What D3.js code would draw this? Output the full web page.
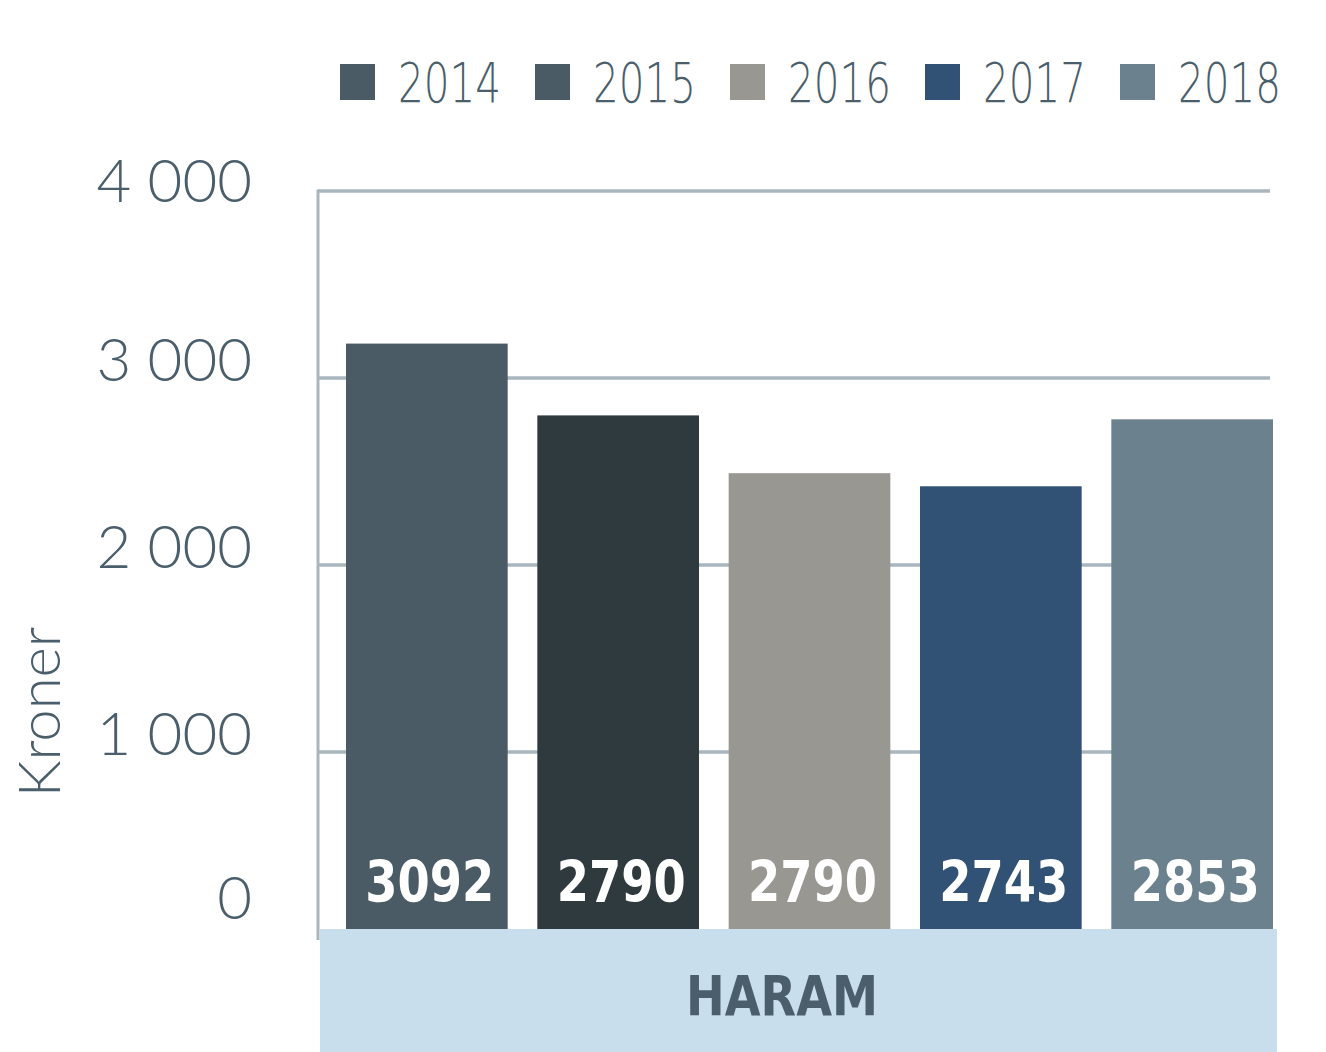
<!DOCTYPE html>
<html>
<head>
<meta charset="utf-8">
<script src="https://cdn.jsdelivr.net/npm/d3@7"></script>
<style>
    html, body { margin: 0; padding: 0; background: #fff; }
    svg { display: block; }
</style>
</head>
<body>
<div id="chart"></div>
<script>
// data
const years = ["2014", "2015", "2016", "2017", "2018"];
const barValues = [3184, 2800, 2491, 2421, 2779];
const valueLabels = ["3092", "2790", "2790", "2743", "2853"];
const yTicks = [0, 1000, 2000, 3000, 4000];
const yTickLabels = ["0", "1 000", "2 000", "3 000", "4 000"];
const category = "HARAM";
const yTitle = "Kroner";

const barColors = ["#4b5b66", "#2f3a3f", "#989792", "#325275", "#6b818d"];
const legendColors = ["#4b5b66", "#4b5b66", "#989792", "#325275", "#6b818d"];
const textColor = "#4a5f6b";
const gridColor = "#a9b6be";

const width = 1326;
const height = 1052;
const margin = { left: 318, top: 191, right: 56, bottom: 113 };

const svg = d3.select("#chart")
    .append("svg")
    .attr("width", width)
    .attr("height", height)
    .attr("viewBox", `0 0 ${width} ${height}`);

const yScale = d3.scaleLinear()
    .domain([0, 4000])
    .range([height - margin.bottom, margin.top]);

const xScale = d3.scaleBand()
    .domain(years)
    .range([346, 1273])
    .paddingInner(0.155)
    .paddingOuter(0);

// gridlines
svg.selectAll(".grid")
    .data(yTicks.filter(d => d > 0))
    .join("line")
        .attr("class", "grid")
        .attr("x1", margin.left)
        .attr("x2", width - margin.right)
        .attr("y1", d => yScale(d))
        .attr("y2", d => yScale(d))
        .attr("stroke", gridColor)
        .attr("stroke-width", 3.5);

// y axis line
svg.append("line")
    .attr("x1", margin.left)
    .attr("x2", margin.left)
    .attr("y1", yScale(4000) - 1.5)
    .attr("y2", yScale(0) + 1)
    .attr("stroke", gridColor)
    .attr("stroke-width", 3);

// tick labels sit a bit above their gridline, kept inside the frame
svg.selectAll(".tick-label")
    .data(yTicks)
    .join("text")
        .attr("class", "tick-label")
        .attr("x", 252)
        .attr("y", d => Math.min(Math.max(yScale(d) - 18, 181), 898))
        .attr("dy", "0.35em")
        .attr("text-anchor", "end")
        .style("font-family", "Lato, 'Open Sans', sans-serif")
        .style("font-weight", 300)
        .style("font-size", "60px")
        .attr("fill", textColor)
        .text((d, i) => yTickLabels[i]);

// y title
svg.append("text")
    .attr("transform", `translate(60, 712) rotate(-90)`)
    .attr("text-anchor", "middle")
    .style("font-family", "Lato, 'Open Sans', sans-serif")
    .style("font-weight", 300)
    .style("font-size", "58px")
    .attr("fill", textColor)
    .text(yTitle);

// bars
svg.selectAll(".bar")
    .data(years)
    .join("rect")
        .attr("class", "bar")
        .attr("x", d => xScale(d))
        .attr("y", (d, i) => yScale(barValues[i]))
        .attr("width", xScale.bandwidth())
        .attr("height", (d, i) => yScale(0) - yScale(barValues[i]))
        .attr("fill", (d, i) => barColors[i]);

// value labels
svg.selectAll(".bar-label")
    .data(years)
    .join("text")
        .attr("class", "bar-label")
        .attr("x", d => xScale(d) + xScale.bandwidth() / 2 + 3)
        .attr("y", 902)
        .attr("text-anchor", "middle")
        .attr("textLength", 129)
        .attr("lengthAdjust", "spacingAndGlyphs")
        .style("font-family", "'DejaVu Sans Condensed', 'DejaVu Sans', sans-serif")
        .style("font-stretch", "condensed")
        .style("font-weight", 700)
        .style("font-size", "57px")
        .attr("fill", "#fff")
        .text((d, i) => valueLabels[i]);

// category band
svg.append("rect")
    .attr("x", 320)
    .attr("y", 929)
    .attr("width", 957)
    .attr("height", height - 929)
    .attr("fill", "#c9deec");

svg.append("text")
    .attr("x", 782)
    .attr("y", 1015)
    .attr("text-anchor", "middle")
    .attr("textLength", 192)
    .attr("lengthAdjust", "spacingAndGlyphs")
    .style("font-family", "'DejaVu Sans Condensed', 'DejaVu Sans', sans-serif")
    .style("font-stretch", "condensed")
    .style("font-weight", 700)
    .style("font-size", "55px")
    .attr("fill", textColor)
    .text(category);

// legend
const legend = svg.selectAll(".legend-item")
    .data(years)
    .join("g")
        .attr("class", "legend-item")
        .attr("transform", (d, i) => `translate(${340 + i * 195}, 64)`);

legend.append("rect")
    .attr("width", 35)
    .attr("height", 36)
    .attr("fill", (d, i) => legendColors[i]);

legend.append("text")
    .attr("x", 58)
    .attr("y", 38)
    .attr("textLength", 103)
    .attr("lengthAdjust", "spacingAndGlyphs")
    .style("font-family", "'DejaVu Sans', sans-serif")
    .style("font-weight", 200)
    .style("font-size", "55px")
    .attr("fill", textColor)
    .text(d => d);
</script>
</body>
</html>
